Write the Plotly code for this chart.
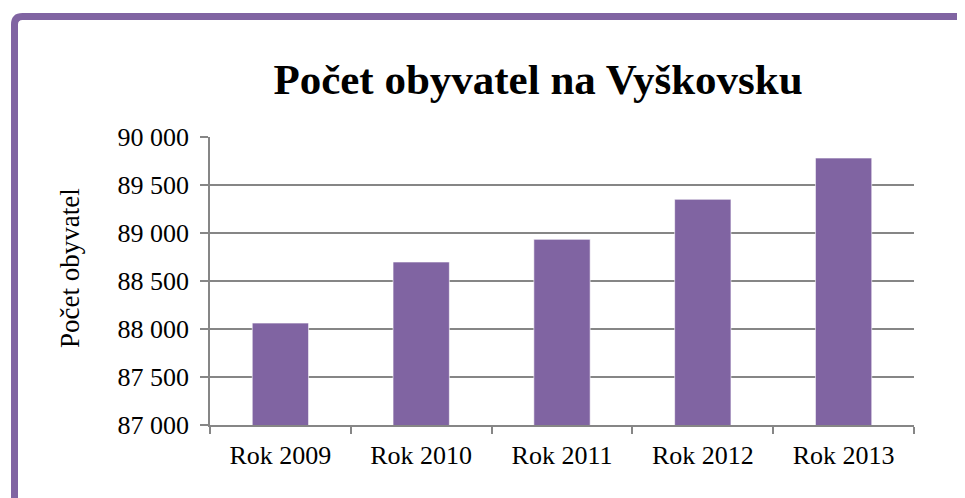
import plotly.graph_objects as go

# data
roky = ["Rok 2009", "Rok 2010", "Rok 2011", "Rok 2012", "Rok 2013"]
pocet_obyvatel = [88062, 88698, 88934, 89351, 89781]

y_min = 87000
y_max = 90000
y_krok = 500

FIALOVA = "#8064A2"
SEDA = "#868686"
PISMO = "'Liberation Serif', 'Times New Roman', serif"

# page has an 8px body margin, so work in page pixels and shift
OFF = 8
W, H = 965 - OFF, 498 - OFF
L = 210 - OFF
T = 137 - OFF
R = W - (914 - OFF)
B = H - (425 - OFF)
plot_w = W - L - R
plot_h = H - T - B


def px_x(px):
    return (px - OFF - L) / plot_w


def px_y(py):
    return (H - B - (py - OFF)) / plot_h


fig = go.Figure()

fig.add_trace(go.Bar(
    x=roky,
    y=pocet_obyvatel,
    marker=dict(color=FIALOVA, line=dict(color="rgba(255,255,255,0.6)", width=1)),
    width=0.4,
    hoverinfo="x+y",
    showlegend=False,
))

# purple frame (top + left edge with rounded corner)
x0 = px_x(14.5)
y0 = px_y(16.5)
r_x = 8 / plot_w
r_y = 8 / plot_h
frame_path = (
    f"M {x0},{px_y(560)} L {x0},{y0 - r_y} "
    f"Q {x0},{y0} {x0 + r_x},{y0} L {px_x(1000)},{y0}"
)
fig.add_shape(
    type="path",
    path=frame_path,
    xref="paper", yref="paper",
    line=dict(color=FIALOVA, width=7),
    layer="above",
)

# y axis title as annotation
fig.add_annotation(
    text="Počet obyvatel",
    xref="paper", yref="paper",
    x=px_x(70), y=px_y(268),
    xanchor="center", yanchor="middle",
    textangle=-90,
    showarrow=False,
    font=dict(family=PISMO, size=27, color="black"),
)

fig.update_layout(
    width=W,
    height=H,
    margin=dict(l=L, r=R, t=T, b=B, autoexpand=False),
    paper_bgcolor="white",
    plot_bgcolor="white",
    separators=", ",
    font=dict(family=PISMO, size=26, color="black"),
    title=dict(
        text="<b>Počet obyvatel na Vyškovsku</b>",
        font=dict(family=PISMO, size=43, color="black"),
        xref="paper",
        x=px_x(538),
        xanchor="center",
        yref="container",
        y=1 - (79 - OFF) / H,
        yanchor="middle",
    ),
)

fig.update_xaxes(
    type="category",
    showline=True,
    linecolor=SEDA,
    linewidth=1.5,
    ticks="outside",
    tickson="boundaries",
    ticklen=7,
    tickcolor=SEDA,
    tickwidth=1.5,
    showgrid=False,
    ticklabelstandoff=6,
    tickfont=dict(family=PISMO, size=26, color="black"),
)

fig.update_yaxes(
    range=[y_min, y_max],
    dtick=y_krok,
    tick0=y_min,
    tickformat=",d",
    showline=True,
    linecolor=SEDA,
    linewidth=1.5,
    ticks="outside",
    ticklen=8,
    tickcolor=SEDA,
    tickwidth=1.5,
    showgrid=True,
    gridcolor=SEDA,
    gridwidth=1.5,
    zeroline=False,
    ticklabelstandoff=6,
    tickfont=dict(family=PISMO, size=26, color="black"),
)

fig.write_html("out.html")
